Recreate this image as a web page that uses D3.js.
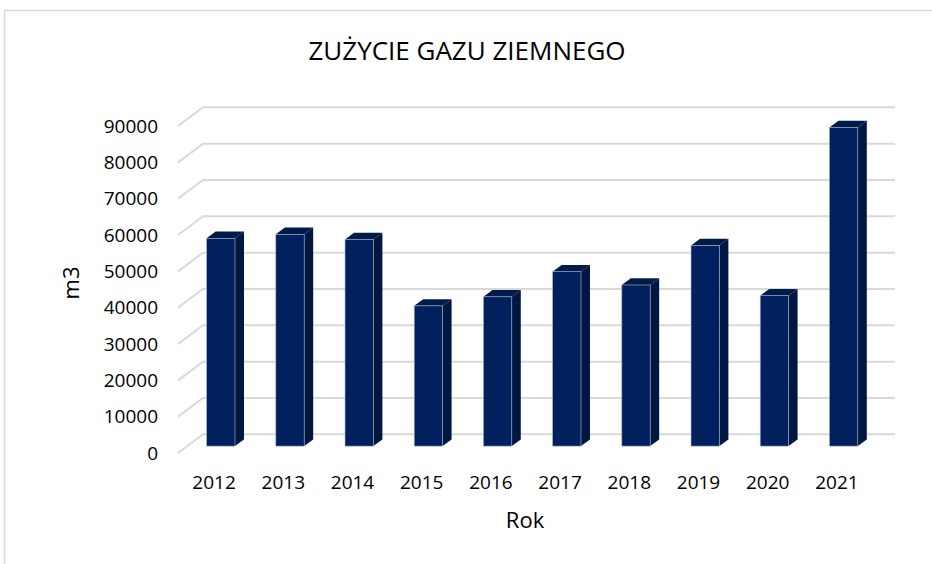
<!DOCTYPE html>
<html>
<head>
<meta charset="utf-8">
<script src="https://cdn.jsdelivr.net/npm/d3@7/dist/d3.min.js"></script>
<style>
  html, body { margin: 0; padding: 0; background: #fff; }
  text { font-family: "Open Sans", "Noto Sans", sans-serif; fill: #000; }
</style>
</head>
<body>
<svg id="chart" width="932" height="564"></svg>
<script>
// data
var years = ['2012', '2013', '2014', '2015', '2016', '2017', '2018', '2019', '2020', '2021'];
var usage = [57200, 58300, 56900, 38600, 41100, 48000, 44350, 55200, 41400, 87700];
var yTicks = [0, 10000, 20000, 30000, 40000, 50000, 60000, 70000, 80000, 90000];

var title = 'ZUŻYCIE GAZU ZIEMNEGO';
var xTitle = 'Rok';
var yTitle = 'm3';

var width = 932, height = 564;
// oblique depth offset (front plane -> back wall)
var DX = 25, DY = 18.7;
// bar depth span (0 = front, 1 = back wall)
var z0 = 0.368, z1 = 0.728;

var svg = d3.select('#chart');

// chart frame
svg.append('rect')
  .attr('x', 4.5).attr('y', 10.5)
  .attr('width', 940).attr('height', 570)
  .attr('fill', 'none')
  .attr('stroke', '#d9d9d9')
  .attr('stroke-width', 1.5);

var x = d3.scaleBand().domain(years).range([178, 870]);
var y = d3.scaleLinear().domain([0, 90000]).range([453, 126]);

// project a point on front plane at depth z
function P(px, v, z) {
  return [px + z * DX, y(v) - z * DY];
}

// gridlines: side wall diagonal + back wall line
var grid = svg.append('g').attr('class', 'grid');
yTicks.forEach(function (t) {
  var a = P(x.range()[0], t, 0), b = P(x.range()[0], t, 1), c = P(x.range()[1], t, 1);
  grid.append('polyline')
    .attr('points', [a, b, c].map(function (p) { return p.join(','); }).join(' '))
    .attr('fill', 'none')
    .attr('stroke', '#d9d9d9')
    .attr('stroke-width', 2);
});

// y tick labels
svg.append('g').selectAll('text')
  .data(yTicks)
  .join('text')
  .attr('x', 158)
  .attr('y', function (d) { return y(d); })
  .attr('dy', '0.35em')
  .attr('text-anchor', 'end')
  .attr('font-size', 19)
  .text(function (d) { return d; });

// bars
var bw = x.bandwidth() * 0.41;
var bars = svg.append('g').selectAll('g')
  .data(years.map(function (yr, i) { return { year: yr, v: usage[i] }; }))
  .join('g');

function poly(pts) { return pts.map(function (p) { return p.join(','); }).join(' '); }

bars.each(function (d) {
  var g = d3.select(this);
  var L = x(d.year) + (x.bandwidth() - bw) / 2 - 1;
  var R = L + bw;
  // right side
  g.append('polygon')
    .attr('points', poly([P(R, 0, z0), P(R, 0, z1), P(R, d.v, z1), P(R, d.v, z0)]))
    .attr('fill', '#00173f');
  // top
  g.append('polygon')
    .attr('points', poly([P(L, d.v, z0), P(R, d.v, z0), P(R, d.v, z1), P(L, d.v, z1)]))
    .attr('fill', '#001a4a');
  // front
  var f0 = P(L, d.v, z0), f1 = P(R, 0, z0);
  g.append('rect')
    .attr('x', f0[0]).attr('y', f0[1])
    .attr('width', f1[0] - f0[0]).attr('height', f1[1] - f0[1])
    .attr('fill', '#00205e')
    .attr('stroke', '#aab6d0')
    .attr('stroke-width', 0.6);
});

// x labels
svg.append('g').selectAll('text')
  .data(years)
  .join('text')
  .attr('x', function (d) { return x(d) + x.bandwidth() / 2 + 1.5; })
  .attr('y', 489)
  .attr('text-anchor', 'middle')
  .attr('font-size', 19)
  .text(function (d) { return d; });

// titles
svg.append('text')
  .attr('x', 467).attr('y', 60)
  .attr('text-anchor', 'middle')
  .attr('font-size', 26)
  .text(title);

svg.append('text')
  .attr('x', 525).attr('y', 528)
  .attr('text-anchor', 'middle')
  .attr('font-size', 22)
  .text(xTitle);

svg.append('text')
  .attr('transform', 'translate(79,283) rotate(-90)')
  .attr('text-anchor', 'middle')
  .attr('font-size', 22)
  .text(yTitle);
</script>
</body>
</html>
